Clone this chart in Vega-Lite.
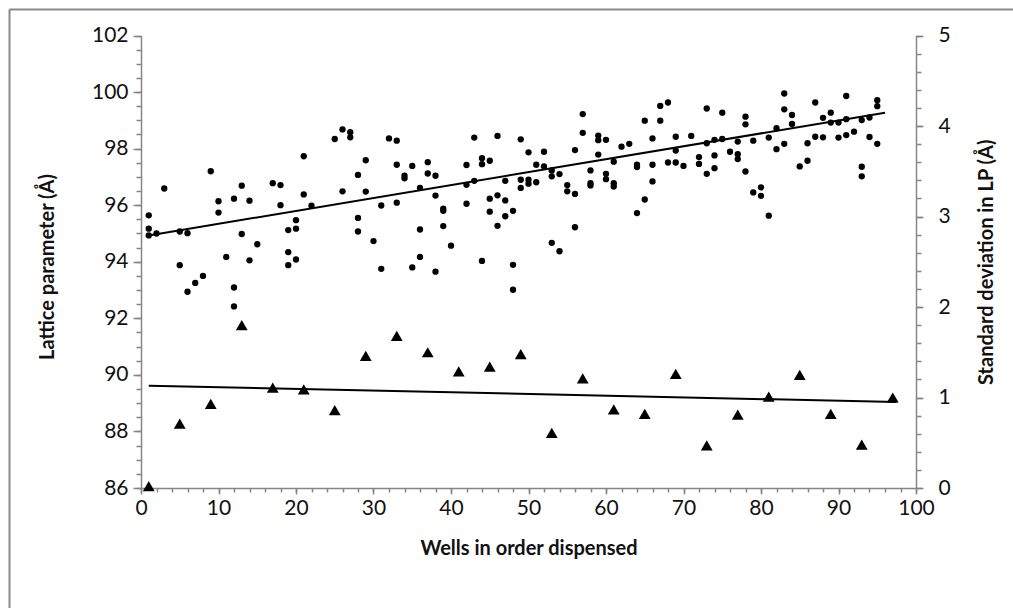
{
  "$schema": "https://vega.github.io/schema/vega-lite/v6.json",
  "width": 1004,
  "height": 599,
  "autosize": {"type": "none"},
  "padding": {"left": 9, "top": 9, "right": 0, "bottom": 0},
  "background": "white",
  "config": {
    "view": {"stroke": null},
    "axis": {
      "domainColor": "#868686",
      "tickColor": "#868686",
      "domainWidth": 1.5,
      "tickWidth": 1.5,
      "labelFont": "Lato",
      "labelFontSize": 21,
      "labelColor": "#111111",
      "titleFont": "Lato",
      "titleFontSize": 20,
      "titleFontWeight": "bold",
      "titleColor": "#111111",
      "grid": false,
      "labelFlush": false,
      "labelOverlap": false
    }
  },
  "datasets": {
    "lp": [
      {"well": 1, "lp": 95.64}, {"well": 1, "lp": 95.17}, {"well": 1, "lp": 94.93},
      {"well": 2, "lp": 95.0}, {"well": 3, "lp": 96.59},
      {"well": 5, "lp": 95.07}, {"well": 5, "lp": 93.88},
      {"well": 6, "lp": 95.01}, {"well": 6, "lp": 92.94},
      {"well": 7, "lp": 93.25}, {"well": 8, "lp": 93.5}, {"well": 9, "lp": 97.2},
      {"well": 10, "lp": 96.14}, {"well": 10, "lp": 95.74},
      {"well": 11, "lp": 94.17},
      {"well": 12, "lp": 96.23}, {"well": 12, "lp": 93.09}, {"well": 12, "lp": 92.42},
      {"well": 13, "lp": 96.69}, {"well": 13, "lp": 94.98},
      {"well": 14, "lp": 96.16}, {"well": 14, "lp": 94.05},
      {"well": 15, "lp": 94.62}, {"well": 17, "lp": 96.78},
      {"well": 18, "lp": 96.71}, {"well": 18, "lp": 96.0},
      {"well": 19, "lp": 95.12}, {"well": 19, "lp": 94.34}, {"well": 19, "lp": 93.88},
      {"well": 20, "lp": 95.47}, {"well": 20, "lp": 95.17}, {"well": 20, "lp": 94.08},
      {"well": 21, "lp": 97.73}, {"well": 21, "lp": 96.38},
      {"well": 22, "lp": 95.98}, {"well": 25, "lp": 98.34},
      {"well": 26, "lp": 98.68}, {"well": 26, "lp": 96.49},
      {"well": 27, "lp": 98.58}, {"well": 27, "lp": 98.4},
      {"well": 28, "lp": 97.07}, {"well": 28, "lp": 95.55}, {"well": 28, "lp": 95.07},
      {"well": 29, "lp": 97.59}, {"well": 29, "lp": 96.48},
      {"well": 30, "lp": 94.73},
      {"well": 31, "lp": 95.99}, {"well": 31, "lp": 93.75},
      {"well": 32, "lp": 98.36},
      {"well": 33, "lp": 98.28}, {"well": 33, "lp": 97.43}, {"well": 33, "lp": 96.09},
      {"well": 34, "lp": 97.04}, {"well": 34, "lp": 96.95},
      {"well": 35, "lp": 97.39}, {"well": 35, "lp": 93.8},
      {"well": 36, "lp": 96.61}, {"well": 36, "lp": 95.14}, {"well": 36, "lp": 94.17},
      {"well": 37, "lp": 97.52}, {"well": 37, "lp": 97.12},
      {"well": 38, "lp": 97.04}, {"well": 38, "lp": 96.34}, {"well": 38, "lp": 93.65},
      {"well": 39, "lp": 95.88}, {"well": 39, "lp": 95.8}, {"well": 39, "lp": 95.26},
      {"well": 40, "lp": 94.57},
      {"well": 42, "lp": 97.42}, {"well": 42, "lp": 96.72}, {"well": 42, "lp": 96.05},
      {"well": 43, "lp": 98.39}, {"well": 43, "lp": 96.86},
      {"well": 44, "lp": 97.66}, {"well": 44, "lp": 97.45}, {"well": 44, "lp": 94.03},
      {"well": 45, "lp": 97.57}, {"well": 45, "lp": 96.23}, {"well": 45, "lp": 95.77},
      {"well": 46, "lp": 98.45}, {"well": 46, "lp": 96.35}, {"well": 46, "lp": 95.27},
      {"well": 47, "lp": 96.86}, {"well": 47, "lp": 96.17}, {"well": 47, "lp": 95.61},
      {"well": 48, "lp": 95.8}, {"well": 48, "lp": 93.89}, {"well": 48, "lp": 93.01},
      {"well": 49, "lp": 98.33}, {"well": 49, "lp": 96.9}, {"well": 49, "lp": 96.61},
      {"well": 50, "lp": 97.87}, {"well": 50, "lp": 96.9}, {"well": 50, "lp": 96.76},
      {"well": 51, "lp": 97.43}, {"well": 51, "lp": 96.81},
      {"well": 52, "lp": 97.89}, {"well": 52, "lp": 97.37},
      {"well": 53, "lp": 97.23}, {"well": 53, "lp": 97.02}, {"well": 53, "lp": 94.67},
      {"well": 54, "lp": 97.1}, {"well": 54, "lp": 94.37},
      {"well": 55, "lp": 96.71}, {"well": 55, "lp": 96.49},
      {"well": 56, "lp": 97.95}, {"well": 56, "lp": 96.4}, {"well": 56, "lp": 95.22},
      {"well": 57, "lp": 99.22}, {"well": 57, "lp": 98.56},
      {"well": 58, "lp": 97.23}, {"well": 58, "lp": 96.78}, {"well": 58, "lp": 96.7},
      {"well": 59, "lp": 98.46}, {"well": 59, "lp": 98.3}, {"well": 59, "lp": 97.79},
      {"well": 60, "lp": 98.31}, {"well": 60, "lp": 97.11}, {"well": 60, "lp": 96.92},
      {"well": 61, "lp": 97.54}, {"well": 61, "lp": 96.78}, {"well": 61, "lp": 96.66},
      {"well": 62, "lp": 98.07}, {"well": 63, "lp": 98.17},
      {"well": 64, "lp": 97.43}, {"well": 64, "lp": 97.35}, {"well": 64, "lp": 95.72},
      {"well": 65, "lp": 98.99}, {"well": 65, "lp": 96.2},
      {"well": 66, "lp": 98.36}, {"well": 66, "lp": 97.43}, {"well": 66, "lp": 96.84},
      {"well": 67, "lp": 99.51}, {"well": 67, "lp": 98.99},
      {"well": 68, "lp": 99.63}, {"well": 68, "lp": 97.51},
      {"well": 69, "lp": 98.42}, {"well": 69, "lp": 97.93}, {"well": 69, "lp": 97.51},
      {"well": 70, "lp": 97.39}, {"well": 71, "lp": 98.45},
      {"well": 72, "lp": 97.7}, {"well": 72, "lp": 97.46},
      {"well": 73, "lp": 99.42}, {"well": 73, "lp": 98.19}, {"well": 73, "lp": 97.11},
      {"well": 74, "lp": 98.31}, {"well": 74, "lp": 97.76}, {"well": 74, "lp": 97.31},
      {"well": 75, "lp": 99.27}, {"well": 75, "lp": 98.34},
      {"well": 76, "lp": 97.89},
      {"well": 77, "lp": 98.25}, {"well": 77, "lp": 97.8}, {"well": 77, "lp": 97.63},
      {"well": 78, "lp": 99.13}, {"well": 78, "lp": 98.86}, {"well": 78, "lp": 97.19},
      {"well": 79, "lp": 98.28}, {"well": 79, "lp": 96.45},
      {"well": 80, "lp": 96.63}, {"well": 80, "lp": 96.33},
      {"well": 81, "lp": 98.39}, {"well": 81, "lp": 95.63},
      {"well": 82, "lp": 98.72}, {"well": 82, "lp": 97.98},
      {"well": 83, "lp": 99.95}, {"well": 83, "lp": 99.39}, {"well": 83, "lp": 98.17},
      {"well": 84, "lp": 99.19}, {"well": 84, "lp": 98.87},
      {"well": 85, "lp": 97.37},
      {"well": 86, "lp": 98.19}, {"well": 86, "lp": 97.57},
      {"well": 87, "lp": 99.63}, {"well": 87, "lp": 98.42},
      {"well": 88, "lp": 99.09}, {"well": 88, "lp": 98.4},
      {"well": 89, "lp": 99.27}, {"well": 89, "lp": 98.92},
      {"well": 90, "lp": 98.92}, {"well": 90, "lp": 98.39},
      {"well": 91, "lp": 99.86}, {"well": 91, "lp": 99.04}, {"well": 91, "lp": 98.48},
      {"well": 92, "lp": 98.6},
      {"well": 93, "lp": 99.01}, {"well": 93, "lp": 97.36}, {"well": 93, "lp": 97.02},
      {"well": 94, "lp": 99.1}, {"well": 94, "lp": 98.41},
      {"well": 95, "lp": 99.71}, {"well": 95, "lp": 99.5}, {"well": 95, "lp": 98.17}
    ],
    "lpTrend": [
      {"well": 1, "lp": 94.93},
      {"well": 96, "lp": 99.27}
    ],
    "sd": [
      {"well": 1, "sd": 0.02}, {"well": 5, "sd": 0.71}, {"well": 9, "sd": 0.93},
      {"well": 13, "sd": 1.8}, {"well": 17, "sd": 1.11}, {"well": 21, "sd": 1.09},
      {"well": 25, "sd": 0.86}, {"well": 29, "sd": 1.46}, {"well": 33, "sd": 1.68},
      {"well": 37, "sd": 1.5}, {"well": 41, "sd": 1.29}, {"well": 45, "sd": 1.34},
      {"well": 49, "sd": 1.48}, {"well": 53, "sd": 0.61}, {"well": 57, "sd": 1.21},
      {"well": 61, "sd": 0.87}, {"well": 65, "sd": 0.82}, {"well": 69, "sd": 1.26},
      {"well": 73, "sd": 0.47}, {"well": 77, "sd": 0.81}, {"well": 81, "sd": 1.01},
      {"well": 85, "sd": 1.25}, {"well": 89, "sd": 0.82}, {"well": 93, "sd": 0.48},
      {"well": 97, "sd": 1.0}
    ],
    "sdTrend": [
      {"well": 1, "sd": 1.13},
      {"well": 97.5, "sd": 0.95}
    ],
    "frame": [{"k": 0}]
  },
  "layer": [
    {
      "encoding": {
        "x": {
          "field": "well", "type": "quantitative",
          "scale": {"domain": [0, 100], "range": [132, 907], "nice": false, "zero": false},
          "axis": {
            "orient": "bottom", "offset": -120,
            "values": [0, 10, 20, 30, 40, 50, 60, 70, 80, 90, 100],
            "tickSize": 6, "labelPadding": 3,
            "title": "Wells in order dispensed",
            "titleX": 519.5, "titleY": 66, "titleAngle": 0,
            "titleBaseline": "alphabetic", "titleAlign": "center"
          }
        },
        "y": {
          "field": "lp", "type": "quantitative",
          "scale": {"domain": [86, 102], "range": [479, 26.5], "nice": false, "zero": false},
          "axis": {
            "orient": "left", "offset": -132,
            "values": [86, 88, 90, 92, 94, 96, 98, 100, 102],
            "tickSize": 8, "labelPadding": 5,
            "title": "Lattice parameter (Å)",
            "titleX": -88, "titleY": 257.5, "titleAngle": -90,
            "titleBaseline": "alphabetic", "titleAlign": "center"
          }
        }
      },
      "layer": [
        {"data": {"name": "lp"}, "mark": {"type": "point", "filled": true, "shape": "circle", "size": 40, "color": "#000000", "opacity": 1}},
        {"data": {"name": "lpTrend"}, "mark": {"type": "line", "color": "#000000", "strokeWidth": 2}}
      ]
    },
    {
      "encoding": {
        "x": {
          "field": "well", "type": "quantitative",
          "scale": {"domain": [0, 100], "range": [132, 907], "nice": false, "zero": false},
          "axis": {
            "orient": "bottom", "offset": -120,
            "values": [0, 2, 4, 6, 8, 10, 12, 14, 16, 18, 20, 22, 24, 26, 28, 30, 32, 34, 36, 38, 40, 42, 44, 46, 48, 50, 52, 54, 56, 58, 60, 62, 64, 66, 68, 70, 72, 74, 76, 78, 80, 82, 84, 86, 88, 90, 92, 94, 96, 98, 100],
            "tickSize": 4, "labels": false, "domain": false, "title": null
          }
        },
        "y": {
          "field": "sd", "type": "quantitative",
          "scale": {"domain": [0, 5], "range": [479, 26.5], "nice": false, "zero": false},
          "axis": {
            "orient": "right", "offset": -97,
            "values": [0, 1, 2, 3, 4, 5],
            "tickSize": 7, "labelPadding": 15,
            "title": "Standard deviation in LP (Å)",
            "titleX": 76, "titleY": 252.75, "titleAngle": -90,
            "titleBaseline": "alphabetic", "titleAlign": "center"
          }
        }
      },
      "layer": [
        {"data": {"name": "sd"}, "mark": {"type": "point", "filled": true, "shape": "triangle-up", "size": 140, "color": "#000000", "opacity": 1}},
        {"data": {"name": "sdTrend"}, "mark": {"type": "line", "color": "#000000", "strokeWidth": 2}}
      ]
    },
    {
      "data": {"name": "frame"},
      "mark": {"type": "point", "opacity": 0},
      "encoding": {
        "x": {
          "datum": 0, "type": "quantitative",
          "scale": {"domain": [0, 1], "nice": false, "zero": false},
          "axis": {"orient": "top", "offset": 0, "domain": true, "domainColor": "#8a8a8a", "domainWidth": 2, "ticks": false, "labels": false, "title": null}
        },
        "y": {
          "datum": 0, "type": "quantitative",
          "scale": {"domain": [0, 1], "nice": false, "zero": false},
          "axis": {"orient": "left", "offset": 0, "domain": true, "domainColor": "#8a8a8a", "domainWidth": 2, "ticks": false, "labels": false, "title": null}
        }
      }
    },
    {
      "data": {"name": "frame"},
      "mark": {"type": "point", "opacity": 0},
      "encoding": {
        "y": {
          "datum": 86, "type": "quantitative",
          "scale": {"domain": [86, 102], "range": [479, 26.5], "nice": false, "zero": false},
          "axis": {
            "orient": "left", "offset": -132, "domain": false, "labels": false, "title": null, "tickSize": 5,
            "values": [86, 86.5, 87, 87.5, 88, 88.5, 89, 89.5, 90, 90.5, 91, 91.5, 92, 92.5, 93, 93.5, 94, 94.5, 95, 95.5, 96, 96.5, 97, 97.5, 98, 98.5, 99, 99.5, 100, 100.5, 101, 101.5, 102]
          }
        }
      }
    },
    {
      "data": {"name": "frame"},
      "mark": {"type": "point", "opacity": 0},
      "encoding": {
        "y": {
          "datum": 0, "type": "quantitative",
          "scale": {"domain": [0, 5], "range": [479, 26.5], "nice": false, "zero": false},
          "axis": {
            "orient": "right", "offset": -97, "domain": false, "labels": false, "title": null, "tickSize": 5,
            "values": [0, 0.2, 0.4, 0.6, 0.8, 1, 1.2, 1.4, 1.6, 1.8, 2, 2.2, 2.4, 2.6, 2.8, 3, 3.2, 3.4, 3.6, 3.8, 4, 4.2, 4.4, 4.6, 4.8, 5]
          }
        }
      }
    }
  ],
  "resolve": {
    "scale": {"x": "independent", "y": "independent"},
    "axis": {"x": "independent", "y": "independent"}
  }
}
